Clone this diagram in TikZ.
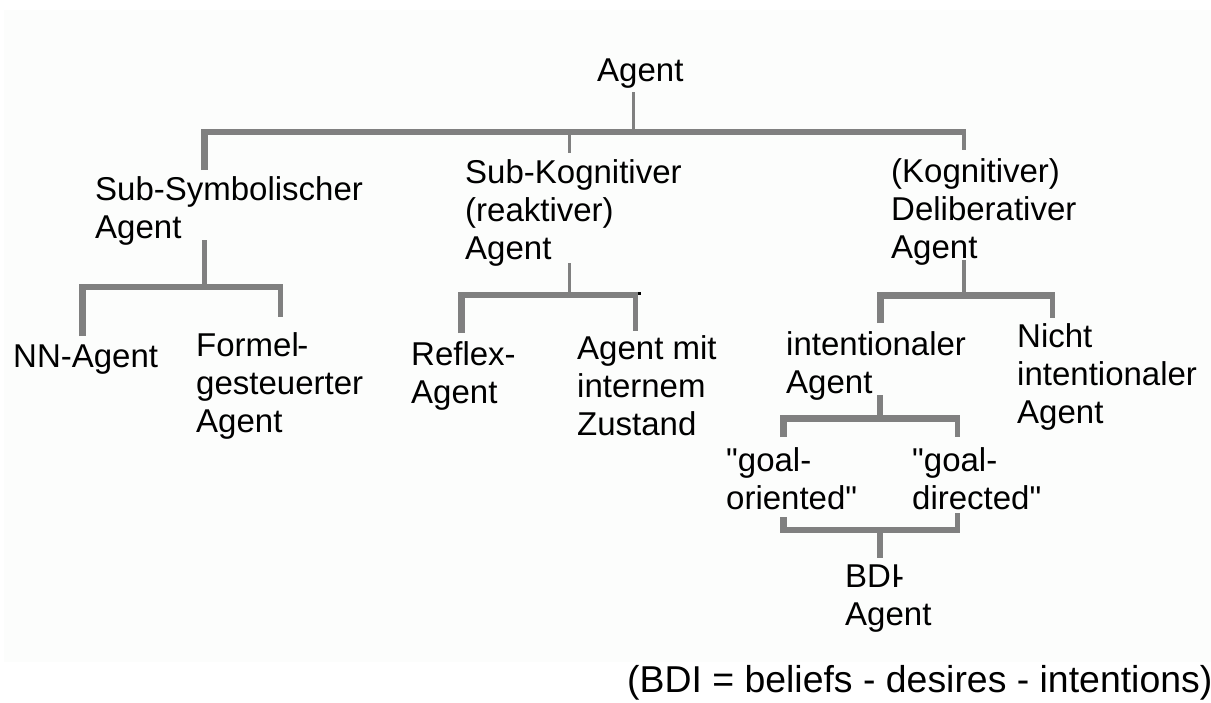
\documentclass[tikz,border=0pt]{standalone}
\usepackage{fontspec}
\setmainfont{Liberation Sans}[Ligatures=TeXOff]
\definecolor{linegray}{RGB}{128,128,128}
\definecolor{panelfill}{RGB}{252,253,252}
\begin{document}
\begin{tikzpicture}[x=1pt,y=-1pt,
  lbl/.style={anchor=base west,inner sep=0pt,align=left,
    font=\fontsize{33}{38}\selectfont},
  link/.style={draw=linegray,line cap=butt,line join=miter},
  wthin/.style={link,line width=3pt},
  wmid/.style={link,line width=4.5pt},
  wthick/.style={link,line width=6.5pt}]
\useasboundingbox (0,0) rectangle (1211,702);
\fill[panelfill] (4,10) rectangle (1211,662);

% labels (placed at the baseline of their last line)
\node[lbl] (root)   at (597,81)  {Agent};
\node[lbl] (ssa)    at (95,238)  {Sub-Symbolischer\\Agent};
\node[lbl] (sko)    at (465,259) {Sub-Kognitiver\\(reaktiver)\\Agent};
\node[lbl] (kog)    at (891,258) {(Kognitiver)\\Deliberativer\\Agent};
\node[lbl] (nn)     at (13,367)  {NN-Agent};
\node[lbl] (formel) at (196,432) {Formel\kern-1.5pt-\\gesteuerter\\Agent};
\node[lbl] (reflex) at (411,403) {Reflex-\\Agent};
\node[lbl] (mit)    at (577,435) {Agent mit\\internem\\Zustand};
\node[lbl] (intent) at (786,393) {intentionaler\\Agent};
\node[lbl] (nicht)  at (1017,423) {Nicht\\intentionaler\\Agent};
\node[lbl] (goalo)  at (726,509) {"goal-\\oriented"};
\node[lbl] (goald)  at (912,509) {"goal-\\directed"};
\node[lbl] (bdi)    at (845,625) {BDI\kern-7pt-\\Agent};
\node[anchor=base west,inner sep=0pt,font=\fontsize{37.4}{44}\selectfont]
  (note) at (627,692) {(BDI = beliefs - desires - intentions)};

% bracket below Agent
\coordinate (rootS)  at (633,92);
\coordinate (rootJ)  at (633,132);
\coordinate (ssaN)   at (204.5,170);
\coordinate (rootBL) at (204.5,132);
\coordinate (rootBR) at (966,132);
\coordinate (skoJ)   at (569.5,132);
\coordinate (skoN)   at (569.5,153);
\coordinate (kogJ)   at (964,132);
\coordinate (kogN)   at (964,150);
\draw[wthin]  (rootS) -- (rootJ);
\draw[wthick] (ssaN) -- (rootBL) -- (rootBR);
\draw[wthin]  (skoJ) -- (skoN);
\draw[wmid]   (kogJ) -- (kogN);

% bracket below Sub-Symbolischer Agent
\coordinate (ssaS)  at (204.5,240);
\coordinate (ssaJ)  at (204.5,287);
\coordinate (nnN)   at (82.5,336);
\coordinate (ssaBL) at (82.5,287);
\coordinate (ssaBR) at (283,287);
\coordinate (forJ)  at (280.5,287);
\coordinate (forN)  at (280.5,317);
\draw[wmid]   (ssaS) -- (ssaJ);
\draw[wthick] (nnN) -- (ssaBL) -- (ssaBR);
\draw[wmid]   (forJ) -- (forN);

% bracket below Sub-Kognitiver Agent
\coordinate (skoS)  at (569.5,263);
\coordinate (skoB)  at (569.5,295);
\coordinate (refN)  at (461.5,333);
\coordinate (skoBL) at (461.5,295);
\coordinate (skoBR) at (638,295);
\coordinate (mitJ)  at (635.5,295);
\coordinate (mitN)  at (635.5,331);
\draw[wthin]  (skoS) -- (skoB);
\draw[wthick] (refN) -- (skoBL) -- (skoBR);
\draw[wmid]   (mitJ) -- (mitN);
\fill[black] (637.5,292) rectangle (640.5,295);

% bracket below Deliberativer Agent
\coordinate (kogS)  at (964,260);
\coordinate (kogB)  at (964,295.5);
\coordinate (intN)  at (880.5,323);
\coordinate (kogBL) at (880.5,295.5);
\coordinate (kogBR) at (1055,295.5);
\coordinate (nicJ)  at (1052.5,295.5);
\coordinate (nicN)  at (1052.5,318);
\draw[wmid]   (kogS) -- (kogB);
\draw[wthick] (intN) -- (kogBL) -- (kogBR);
\draw[wmid]   (nicJ) -- (nicN);

% bracket below intentionaler Agent
\coordinate (intS)  at (880,395);
\coordinate (intB)  at (880,418.5);
\coordinate (goN)   at (783.5,437);
\coordinate (intBL) at (783.5,418.5);
\coordinate (intBR) at (960,418.5);
\coordinate (gdJ)   at (957.5,418.5);
\coordinate (gdN)   at (957.5,437);
\draw[wthick] (intS) -- (intB);
\draw[wthick] (goN) -- (intBL) -- (intBR);
\draw[wmid]   (gdJ) -- (gdN);

% bracket joining both goal nodes into BDI Agent
\coordinate (goS)   at (783.5,517);
\coordinate (goBL)  at (783.5,530);
\coordinate (gdS)   at (957.5,513);
\coordinate (gdBR)  at (957.5,530);
\coordinate (bdiBR) at (960,530);
\coordinate (bdiJ)  at (880,530);
\coordinate (bdiN)  at (880,558);
\draw[wthick] (goS) -- (goBL) -- (bdiBR);
\draw[wmid]   (gdS) -- (gdBR);
\draw[wthick] (bdiJ) -- (bdiN);
\end{tikzpicture}
\end{document}
